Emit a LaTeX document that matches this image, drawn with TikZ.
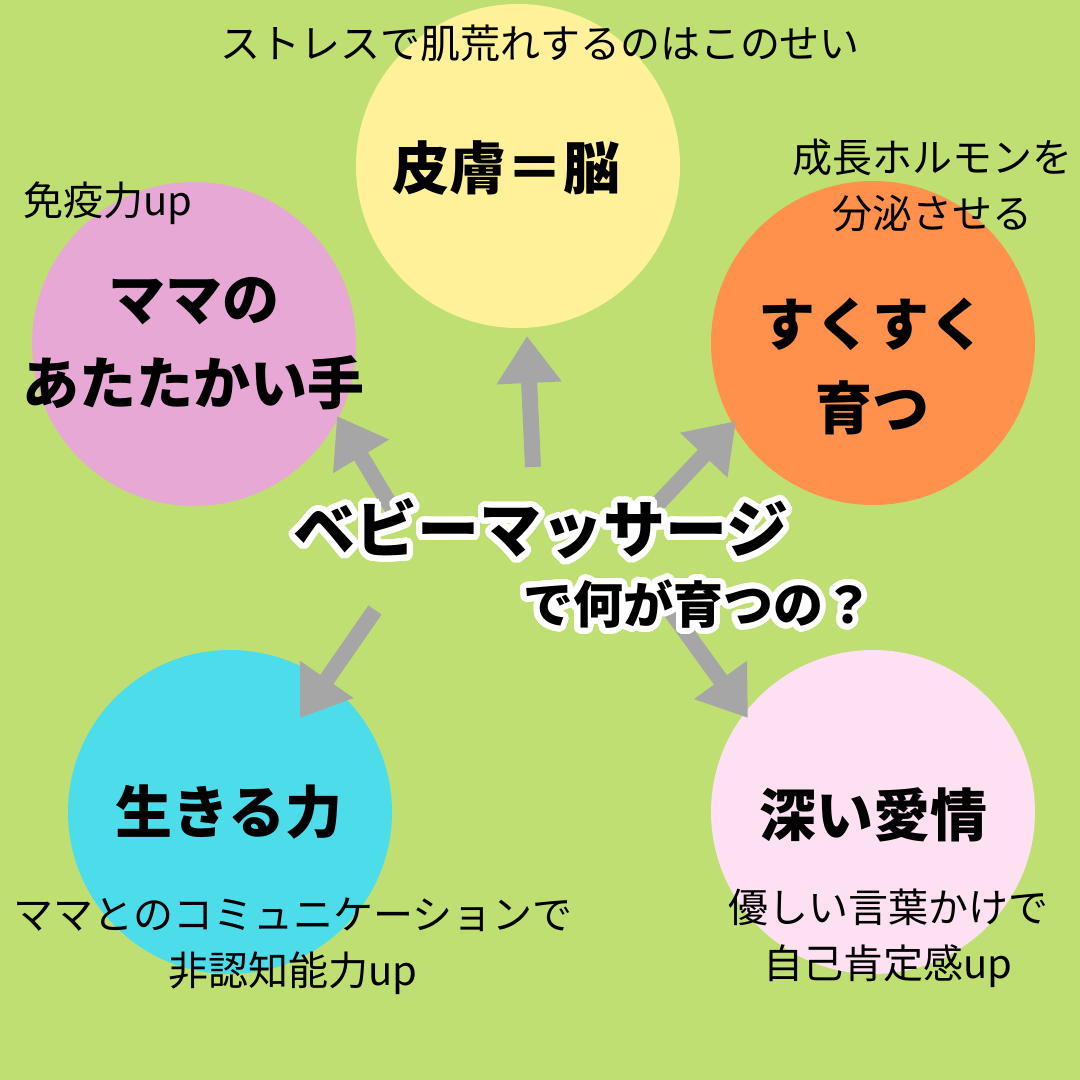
\documentclass[tikz,border=0pt]{standalone}
\usepackage{fontspec}
\usepackage{contour}
\usetikzlibrary{arrows.meta}
\newfontfamily\jp{Noto Sans CJK JP}
\definecolor{bgc}{HTML}{C0DF72}
\definecolor{cyel}{HTML}{FFF19A}
\definecolor{cpink}{HTML}{E8A8D5}
\definecolor{corange}{HTML}{FF914D}
\definecolor{ccyan}{HTML}{4DDCEA}
\definecolor{clpink}{HTML}{FDE0F2}
\definecolor{agrey}{HTML}{A6A6A6}
\contourlength{6pt}
\contournumber{40}
\tikzset{
  bubble/.style={circle, inner sep=0pt, minimum size=324pt, draw=none},
  bigtxt/.style={font=\jp\bfseries\fontsize{57}{84}\selectfont, align=center, text=black, inner sep=0pt},
  smalltxt/.style={font=\jp\fontsize{40}{56}\selectfont, align=center, text=black, inner sep=0pt},
  fatarrow/.style={draw=agrey, line width=16pt, -{Triangle[length=47pt,width=62pt]}, agrey},
}
\begin{document}
\begin{tikzpicture}[x=1pt,y=-1pt]
\fill[bgc] (0,0) rectangle (1080,1080);
\useasboundingbox (0,0) rectangle (1080,1080);

% circles
\node[bubble, fill=cyel]    (skin)   at (518,166) {};
\node[bubble, fill=cpink]   (hand)   at (194,344) {};
\node[bubble, fill=corange] (grow)   at (873,343) {};
\node[bubble, fill=ccyan]   (life)   at (230,812) {};
\node[bubble, fill=clpink]  (love)   at (873,812) {};

% arrow end points
\coordinate (tU)  at (533,467); \coordinate (hU)  at (527,336);
\coordinate (tUL) at (392,508); \coordinate (hUL) at (337,416);
\coordinate (tUR) at (652,510); \coordinate (hUR) at (736,421);
\coordinate (tLL) at (375,610); \coordinate (hLL) at (300,718);
\coordinate (tLR) at (654,588); \coordinate (hLR) at (748,718);
\draw[fatarrow] (tU) -- (hU);
\draw[fatarrow] (tUL) -- (hUL);
\draw[fatarrow] (tUR) -- (hUR);
\draw[fatarrow] (tLL) -- (hLL);
\draw[fatarrow] (tLR) -- (hLR);

% big labels
\node[bigtxt] (skinT) at (506,168) {皮膚＝脳};
\node[bigtxt] (handT) at (194,344) {ママの\\あたたかい手};
\node[bigtxt] (growT) at (872,366) {すくすく\\育つ};
\node[bigtxt] (lifeT) at (229,812) {生きる力};
\node[bigtxt] (loveT) at (873,815) {深い愛情};

% small captions
\node[smalltxt] (c1) at (540,43) {ストレスで肌荒れするのはこのせい};
\node[smalltxt] (c2) at (108,203) {免疫力up};
\node[smalltxt] (c3) at (932,185) {成長ホルモンを\\分泌させる};
\node[smalltxt] (c4) at (293,946) {ママとのコミュニケーションで\\非認知能力up};
\node[smalltxt] (c5) at (888,938) {優しい言葉かけで\\自己肯定感up};

% center title with white outline
\node[inner sep=0pt, font=\jp\bfseries\fontsize{62}{70}\selectfont] (title) at (541,532) {\contour{white}{ベビーマッサージ}};
\node[inner sep=0pt, font=\jp\bfseries\fontsize{50}{60}\selectfont] (sub) at (698,607) {\contour{white}{で何が育つの？}};
\end{tikzpicture}
\end{document}
